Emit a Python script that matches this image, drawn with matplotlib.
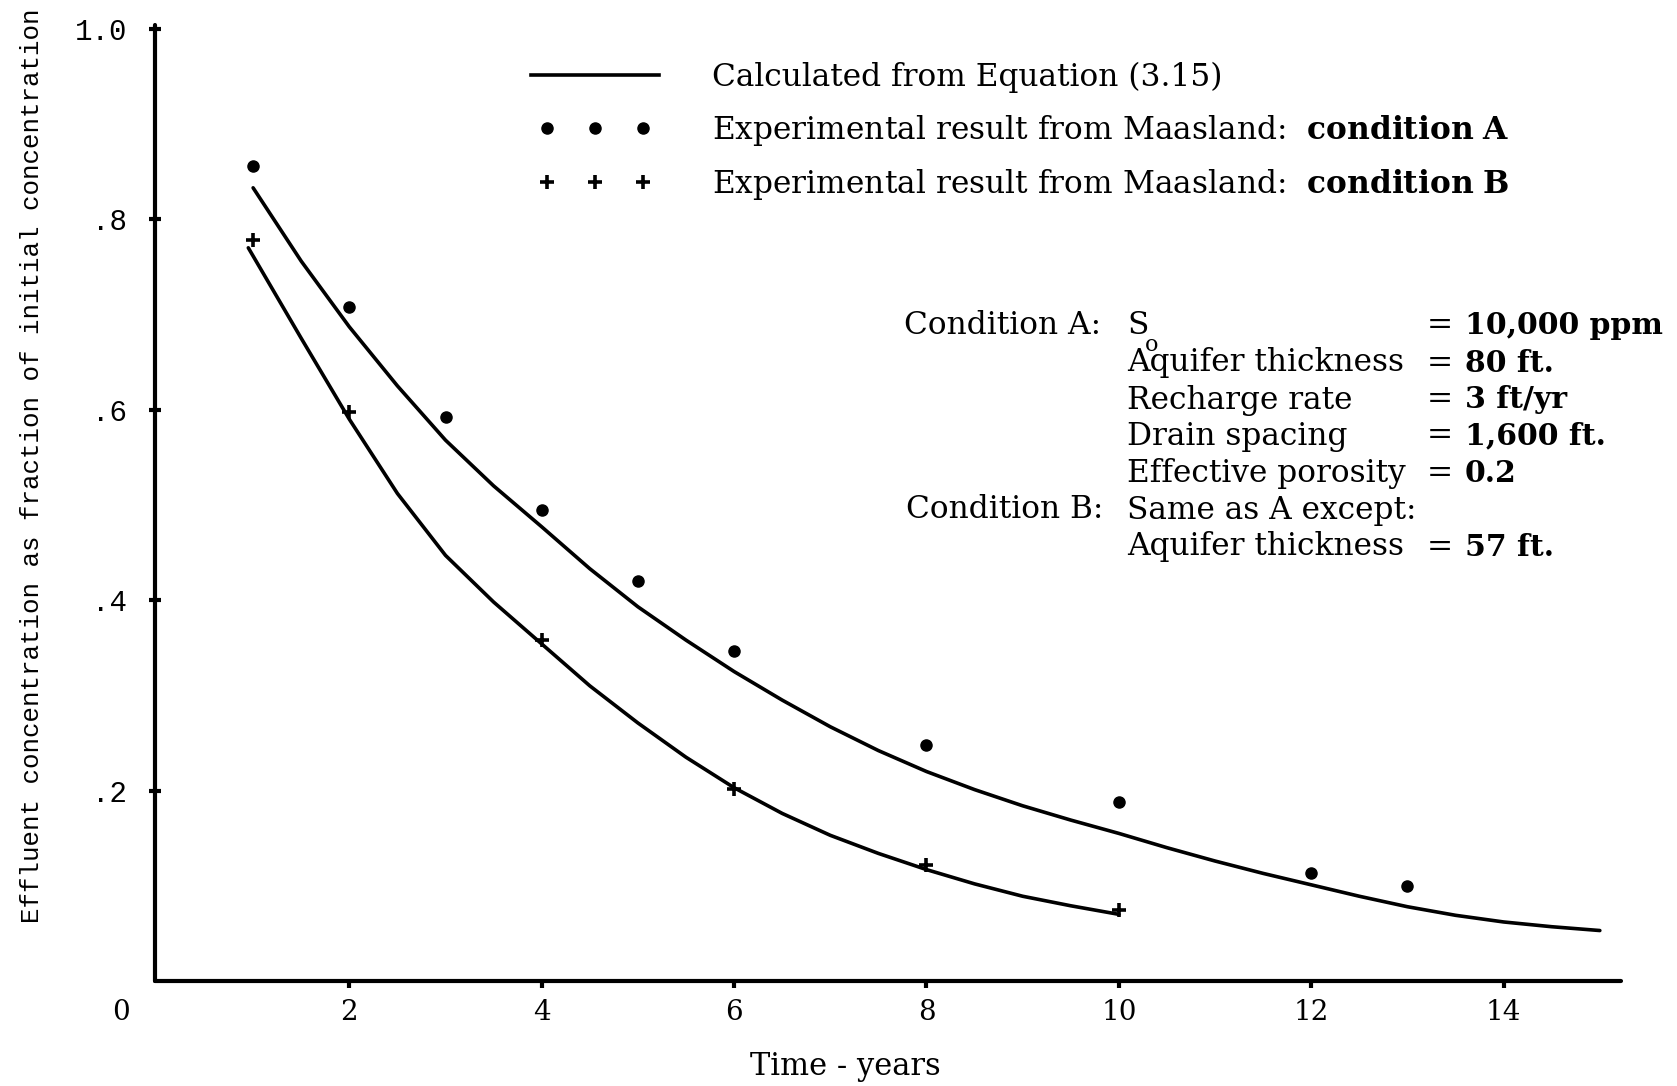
import numpy as np
import matplotlib.pyplot as plt
from matplotlib.lines import Line2D
from matplotlib.legend_handler import HandlerLine2D

SERIF = 'DejaVu Serif'
plt.rcParams['font.family'] = SERIF
plt.rcParams['mathtext.fontset'] = 'custom'
plt.rcParams['mathtext.rm'] = SERIF
plt.rcParams['mathtext.bf'] = SERIF + ':bold'

W, H = 1677, 1086

# curves calculated from Equation (3.15)
calcA_t = [1.0, 1.5, 2.0, 2.5, 3.0, 3.5, 4.0, 4.5, 5.0, 5.5, 6.0, 6.5, 7.0, 7.5,
           8.0, 8.5, 9.0, 9.5, 10.0, 10.5, 11.0, 11.5, 12.0, 12.5, 13.0, 13.5,
           14.0, 14.5, 15.0]
calcA_c = [0.833, 0.756, 0.687, 0.625, 0.568, 0.520, 0.477, 0.433, 0.393, 0.358,
           0.325, 0.295, 0.267, 0.242, 0.220, 0.201, 0.184, 0.169, 0.155, 0.140,
           0.126, 0.113, 0.101, 0.089, 0.078, 0.069, 0.062, 0.057, 0.053]
calcB_t = [0.95, 1.5, 2.0, 2.5, 3.0, 3.5, 4.0, 4.5, 5.0, 5.5, 6.0, 6.5, 7.0, 7.5,
           8.0, 8.5, 9.0, 9.5, 10.0]
calcB_c = [0.770, 0.675, 0.590, 0.512, 0.447, 0.398, 0.354, 0.310, 0.271, 0.235,
           0.203, 0.176, 0.153, 0.134, 0.117, 0.102, 0.089, 0.079, 0.070]

# Maasland experiments
expA_t = [1, 2, 3, 4, 5, 6, 8, 10, 12, 13]
expA_c = [0.856, 0.708, 0.592, 0.495, 0.420, 0.347, 0.248, 0.188, 0.113, 0.100]
expB_t = [1, 2, 4, 6, 8, 10]
expB_c = [0.778, 0.598, 0.358, 0.202, 0.122, 0.075]

xticks = [2, 4, 6, 8, 10, 12, 14]
yticks = [0.2, 0.4, 0.6, 0.8, 1.0]
ylabels = ['.2', '.4', '.6', '.8', '1.0']

fig = plt.figure(figsize=(W / 100, H / 100), dpi=100)
ax = fig.add_axes([155 / W, 1 - 981 / H, (1621 - 155) / W, (981 - 25) / H])

ax.plot(calcA_t, calcA_c, color='black', lw=2.6, solid_capstyle='round',
        solid_joinstyle='round')
ax.plot(calcB_t, calcB_c, color='black', lw=2.6, solid_capstyle='round',
        solid_joinstyle='round')
ax.plot(expA_t, expA_c, 'o', color='black', ms=8)
ax.plot(expB_t, expB_c, '+', color='black', ms=10, mew=2.6)

ax.set_xlim(-0.02, 15.22)
ax.set_ylim(0, 1.004)
for s in ['top', 'right']:
    ax.spines[s].set_visible(False)
for s in ['left', 'bottom']:
    ax.spines[s].set_linewidth(3)
    ax.spines[s].set_capstyle('round')

ax.set_xticks(xticks)
ax.set_xticklabels([str(t) for t in xticks], fontsize=20)
ax.tick_params(axis='x', direction='out', length=5, width=3, pad=8)
ax.set_yticks(yticks)
ax.set_yticklabels(ylabels, fontsize=21, family='Liberation Mono')
ax.tick_params(axis='y', direction='inout', length=8, width=3, pad=16)
ax.text(-0.37, -0.033, '0', transform=ax.get_xaxis_transform(), fontsize=20,
        ha='center', va='center', clip_on=False)

fig.text(32 / W, 1 - 466 / H,
         'Effluent concentration as fraction of initial concentration',
         rotation=90, family='Liberation Mono', fontsize=18.6, ha='center', va='center')
fig.text(845 / W, 1 - 1067 / H, 'Time - years', fontsize=22, ha='center', va='center')

# legend: solid line, three dots, three crosses
fs = 22.5
fs_px = fs * 100 / 72
handles = [
    Line2D([], [], color='black', lw=2.6),
    Line2D([], [], ls='none', marker='o', color='black', ms=8),
    Line2D([], [], ls='none', marker='+', color='black', ms=10, mew=2.6),
]
labels = [
    'Calculated from Equation (3.15)',
    r'Experimental result from Maasland:  $\mathbf{condition\ A}$',
    r'Experimental result from Maasland:  $\mathbf{condition\ B}$',
]
hw = 128
mpad = (hw - 96) / 2 / fs_px
hmap = {handles[0]: HandlerLine2D(marker_pad=0),
        handles[1]: HandlerLine2D(marker_pad=mpad),
        handles[2]: HandlerLine2D(marker_pad=mpad)}
ax.legend(handles, labels, handler_map=hmap, loc='upper left',
          bbox_to_anchor=(531 / W, 1 - 62 / H), bbox_transform=fig.transFigure,
          frameon=False, numpoints=3, fontsize=fs, handlelength=hw / fs_px,
          handletextpad=(712 - 531 - hw) / fs_px, labelspacing=0.62, borderpad=0,
          borderaxespad=0)

# parameter table
rows = [
    ('S', '10,000 ppm'),
    ('Aquifer thickness', '80 ft.'),
    ('Recharge rate', '3 ft/yr'),
    ('Drain spacing', '1,600 ft.'),
    ('Effective porosity', '0.2'),
    ('Same as A except:', None),
    ('Aquifer thickness', '57 ft.'),
]
row_y = [326, 363, 400, 436, 473, 510, 547]
for (name, val), y in zip(rows, row_y):
    fig.text(1127 / W, 1 - y / H, name, fontsize=fs, ha='left', va='center')
    if val is not None:
        fig.text(1440 / W, 1 - y / H, '=', fontsize=fs, ha='center', va='center')
        fig.text(1465 / W, 1 - y / H, val, fontsize=21.5, ha='left', va='center',
                 fontweight='bold')
fig.text(1152 / W, 1 - 345 / H, 'o', fontsize=16, ha='center', va='center')
fig.text(904 / W, 1 - 326 / H, 'Condition A:', fontsize=fs, ha='left', va='center')
fig.text(906 / W, 1 - 510 / H, 'Condition B:', fontsize=fs, ha='left', va='center')

fig.savefig('out.png', dpi=100)
